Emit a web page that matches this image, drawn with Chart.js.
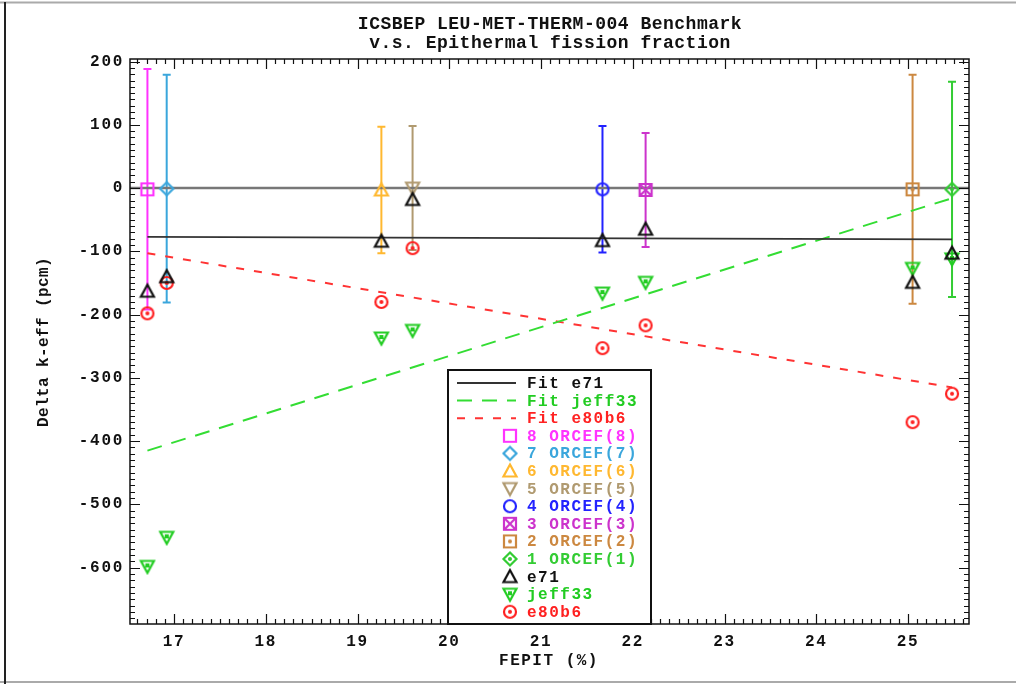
<!DOCTYPE html>
<html>
<head>
<meta charset="utf-8">
<title>ICSBEP LEU-MET-THERM-004 Benchmark</title>
<script src="https://cdn.jsdelivr.net/npm/chart.js@4.4.1/dist/chart.umd.min.js"></script>
<style>
  html, body { margin: 0; padding: 0; background: #fff; }
  #wrap { position: relative; width: 1016px; height: 684px; }
</style>
</head>
<body>
<div id="wrap"><canvas id="chart"></canvas></div>
<script>
// FEPIT (%) of each case, listed 8 .. 1
const fepit = [16.71, 16.92, 19.26, 19.60, 21.67, 22.14, 25.05, 25.48];

// ORCEF reference and its uncertainty (pcm)
const orcefLabels = ['8 ORCEF(8)', '7 ORCEF(7)', '6 ORCEF(6)', '5 ORCEF(5)', '4 ORCEF(4)', '3 ORCEF(3)', '2 ORCEF(2)', '1 ORCEF(1)'];
const orcefValues = [-2, -1, -3, 0, -2, -3, -2, -2];
const orcefErrors = [190, 180, 100, 98, 100, 90, 181, 170];

// calculation results, delta k-eff (pcm)
const e71Values = [-163, -140, -84, -18, -83, -65, -149, -103];
const jeff33Values = [-598, -552, -237, -225, -166, -149, -127, -112];
const e80b6Values = [-198, -150, -180, -95, -253, -217, -370, -325];

// linear fits, end points
const fitX = [16.71, 25.48];
const fitE71 = [-77, -81];
const fitJeff33 = [-415, -16];
const fitE80b6 = [-103, -315];

// axes
const xRange = [16.52, 25.665];
const yRange = [-689, 204];
const xTicks = [17, 18, 19, 20, 21, 22, 23, 24, 25];
const yTicks = [200, 100, 0, -100, -200, -300, -400, -500, -600];

const orcefColors = ['#ff33ff', '#3aa6dc', '#ffb830', '#b09a70', '#2222ff', '#cc33cc', '#cc8840', '#33cc33'];
const orcefShapes = ['square', 'diamond', 'triUp', 'triDown', 'circle', 'bowtie', 'squareDot', 'diamondDot'];

const MONO = '"Liberation Mono", "DejaVu Sans Mono", monospace';

// small canvas markers, used as pointStyle and in the legend
function marker(kind, color) {
    const c = document.createElement('canvas');
    c.width = 18;
    c.height = 18;
    const g = c.getContext('2d');
    g.strokeStyle = color;
    g.fillStyle = color;
    g.lineWidth = 2.2;
    g.translate(9, 9);
    g.beginPath();
    if (kind.startsWith('square') || kind === 'bowtie') {
        g.rect(-6, -6, 12, 12);
    } else if (kind.startsWith('diamond')) {
        g.moveTo(0, -6.5); g.lineTo(6.5, 0); g.lineTo(0, 6.5); g.lineTo(-6.5, 0); g.closePath();
    } else if (kind === 'triUp') {
        g.moveTo(0, -6.5); g.lineTo(6.5, 5.5); g.lineTo(-6.5, 5.5); g.closePath();
    } else if (kind.startsWith('triDown')) {
        g.moveTo(0, 6.5); g.lineTo(6.5, -5.5); g.lineTo(-6.5, -5.5); g.closePath();
    } else if (kind.startsWith('circle')) {
        g.arc(0, 0, 6, 0, Math.PI * 2);
    }
    if (kind === 'bowtie') {
        g.moveTo(-6, -6); g.lineTo(6, 6);
        g.moveTo(6, -6); g.lineTo(-6, 6);
    }
    g.stroke();
    if (kind.endsWith('Dot')) {
        g.beginPath();
        g.arc(0, 0, 2, 0, Math.PI * 2);
        g.fill();
    }
    if (kind === 'triDownBar') {
        g.fillRect(-2, -3, 4, 4);
    }
    return c;
}

const datasets = [];

datasets.push({
    data: xRange.map(x => ({ x, y: 0 })),
    showLine: true, borderColor: '#777', borderWidth: 2.5, pointRadius: 0, order: 9, noLegend: true
});
datasets.push({
    label: 'Fit e71', data: fitX.map((x, i) => ({ x, y: fitE71[i] })),
    showLine: true, borderColor: '#333', borderWidth: 1.8, pointRadius: 0, order: 8, color: '#111'
});
datasets.push({
    label: 'Fit jeff33', data: fitX.map((x, i) => ({ x, y: fitJeff33[i] })),
    showLine: true, borderColor: '#33dd33', borderWidth: 2, borderDash: [15, 10], pointRadius: 0, order: 8, color: '#22cc22'
});
datasets.push({
    label: 'Fit e80b6', data: fitX.map((x, i) => ({ x, y: fitE80b6[i] })),
    showLine: true, borderColor: '#ff3333', borderWidth: 2, borderDash: [8, 10], pointRadius: 0, order: 8, color: '#ff2222'
});

orcefLabels.forEach((label, i) => {
    datasets.push({
        label,
        data: [{ x: fepit[i], y: orcefValues[i] }],
        pointStyle: marker(orcefShapes[i], orcefColors[i]),
        pointRadius: 7, borderColor: orcefColors[i], order: 3,
        color: orcefColors[i], errorBar: orcefErrors[i]
    });
});

datasets.push({
    label: 'e71', data: fepit.map((x, i) => ({ x, y: e71Values[i] })),
    pointStyle: marker('triUp', '#111'), pointRadius: 7, borderColor: '#111', order: 1, color: '#111'
});
datasets.push({
    label: 'jeff33', data: fepit.map((x, i) => ({ x, y: jeff33Values[i] })),
    pointStyle: marker('triDownBar', '#22cc22'), pointRadius: 7, borderColor: '#22cc22', order: 2, color: '#22cc22'
});
datasets.push({
    label: 'e80b6', data: fepit.map((x, i) => ({ x, y: e80b6Values[i] })),
    pointStyle: marker('circleDot', '#ff2020'), pointRadius: 7, borderColor: '#ff2020', order: 2, color: '#ff2020'
});

// page frame lines
const pageFrame = {
    id: 'pageFrame',
    beforeDraw(chart) {
        const c = chart.ctx;
        c.save();
        c.strokeStyle = '#aaa';
        c.lineWidth = 2;
        c.beginPath();
        c.moveTo(0, 2.5); c.lineTo(chart.width, 2.5);
        c.moveTo(0, 682); c.lineTo(chart.width, 682);
        c.stroke();
        c.strokeStyle = '#222';
        c.beginPath();
        c.moveTo(5, 2); c.lineTo(5, chart.height);
        c.stroke();
        c.restore();
        // tick labels use the same wide spacing as the rest of the text
        c.letterSpacing = '1.7px';
    }
};

// vertical error bars with caps on the ORCEF points
const errorBars = {
    id: 'errorBars',
    beforeDatasetsDraw(chart) {
        const { ctx: c, scales: { x, y } } = chart;
        c.save();
        c.lineWidth = 2;
        chart.data.datasets.forEach(ds => {
            if (ds.errorBar === undefined) return;
            const p = ds.data[0];
            const px = x.getPixelForValue(p.x);
            const top = y.getPixelForValue(p.y + ds.errorBar);
            const bot = y.getPixelForValue(p.y - ds.errorBar);
            c.strokeStyle = ds.color;
            c.beginPath();
            c.moveTo(px, top); c.lineTo(px, bot);
            c.moveTo(px - 4, top); c.lineTo(px + 4, top);
            c.moveTo(px - 4, bot); c.lineTo(px + 4, bot);
            c.stroke();
        });
        c.restore();
    }
};

// box round the plot with inward major and minor ticks on all four sides
const frameTicks = {
    id: 'frameTicks',
    afterDraw(chart) {
        const { ctx: c, chartArea: a, scales: { x, y } } = chart;
        c.save();
        c.strokeStyle = '#111';
        c.lineWidth = 1.5;
        c.strokeRect(a.left, a.top, a.right - a.left, a.bottom - a.top);
        c.lineWidth = 1.2;
        c.beginPath();
        for (let k = Math.ceil(x.min * 10); k <= Math.floor(x.max * 10); k++) {
            const px = Math.round(x.getPixelForValue(k / 10)) + 0.5;
            const len = k % 10 === 0 ? 10 : 5;
            c.moveTo(px, a.bottom); c.lineTo(px, a.bottom - len);
            c.moveTo(px, a.top); c.lineTo(px, a.top + len);
        }
        for (let k = Math.ceil(y.min / 10); k <= Math.floor(y.max / 10); k++) {
            const py = Math.round(y.getPixelForValue(k * 10)) + 0.5;
            const len = k % 10 === 0 ? 10 : 5;
            c.moveTo(a.left, py); c.lineTo(a.left + len, py);
            c.moveTo(a.right, py); c.lineTo(a.right - len, py);
        }
        c.stroke();

        // titles
        c.fillStyle = '#111';
        c.textAlign = 'center';
        c.textBaseline = 'middle';
        c.font = 'bold 18px ' + MONO;
        c.letterSpacing = '0.5px';
        c.fillText('ICSBEP LEU-MET-THERM-004 Benchmark', 550, 24);
        c.fillText('v.s. Epithermal fission fraction', 550, 43);
        c.font = 'bold 16px ' + MONO;
        c.letterSpacing = '1.5px';
        c.fillText('FEPIT (%)', 549, 661);
        c.letterSpacing = '0.4px';
        c.translate(44, 342);
        c.rotate(-Math.PI / 2);
        c.fillText('Delta k-eff (pcm)', 0, 0);
        c.restore();
    }
};

// legend box inside the plot
const boxLegend = {
    id: 'boxLegend',
    afterDraw(chart) {
        const c = chart.ctx;
        const box = { left: 448, top: 370, right: 651, bottom: 624 };
        c.save();
        c.fillStyle = '#fff';
        c.fillRect(box.left, box.top, box.right - box.left, box.bottom - box.top);
        c.strokeStyle = '#111';
        c.lineWidth = 2;
        c.strokeRect(box.left, box.top, box.right - box.left, box.bottom - box.top);
        c.font = 'bold 16px ' + MONO;
        c.letterSpacing = '1.5px';
        c.textAlign = 'left';
        c.textBaseline = 'middle';
        let row = 0;
        chart.data.datasets.forEach(ds => {
            if (ds.noLegend) return;
            const yy = 383 + row * 17.6;
            if (ds.showLine) {
                c.strokeStyle = ds.borderColor;
                c.lineWidth = ds.borderWidth;
                c.setLineDash(ds.borderDash || []);
                c.beginPath();
                c.moveTo(457, yy); c.lineTo(516, yy);
                c.stroke();
                c.setLineDash([]);
            } else {
                const m = ds.pointStyle;
                c.drawImage(m, 510 - m.width / 2, yy - m.height / 2);
            }
            c.fillStyle = ds.color;
            c.fillText(ds.label, 527, yy + 1);
            row++;
        });
        c.restore();
    }
};

const tickFont = { family: MONO, size: 16, weight: 'bold' };

new Chart(document.getElementById('chart'), {
    type: 'scatter',
    data: { datasets },
    options: {
        responsive: true,
        maintainAspectRatio: false,
        animation: false,
        layout: { padding: { top: 59, right: 47, left: 0, bottom: 0 } },
        plugins: {
            legend: { display: false },
            tooltip: { enabled: false }
        },
        scales: {
            x: {
                type: 'linear',
                min: xRange[0],
                max: xRange[1],
                grid: { display: false, drawTicks: false },
                border: { display: false },
                ticks: { font: tickFont, color: '#111', padding: 8, maxRotation: 0, autoSkip: false },
                afterBuildTicks: s => { s.ticks = xTicks.map(value => ({ value })); },
                afterFit: s => { s.height = 60; }
            },
            y: {
                type: 'linear',
                min: yRange[0],
                max: yRange[1],
                grid: { display: false, drawTicks: false },
                border: { display: false },
                ticks: { font: tickFont, color: '#111', padding: 6, autoSkip: false },
                afterBuildTicks: s => { s.ticks = yTicks.map(value => ({ value })); },
                afterFit: s => { s.width = 130; }
            }
        }
    },
    plugins: [pageFrame, errorBars, frameTicks, boxLegend]
});
</script>
</body>
</html>
